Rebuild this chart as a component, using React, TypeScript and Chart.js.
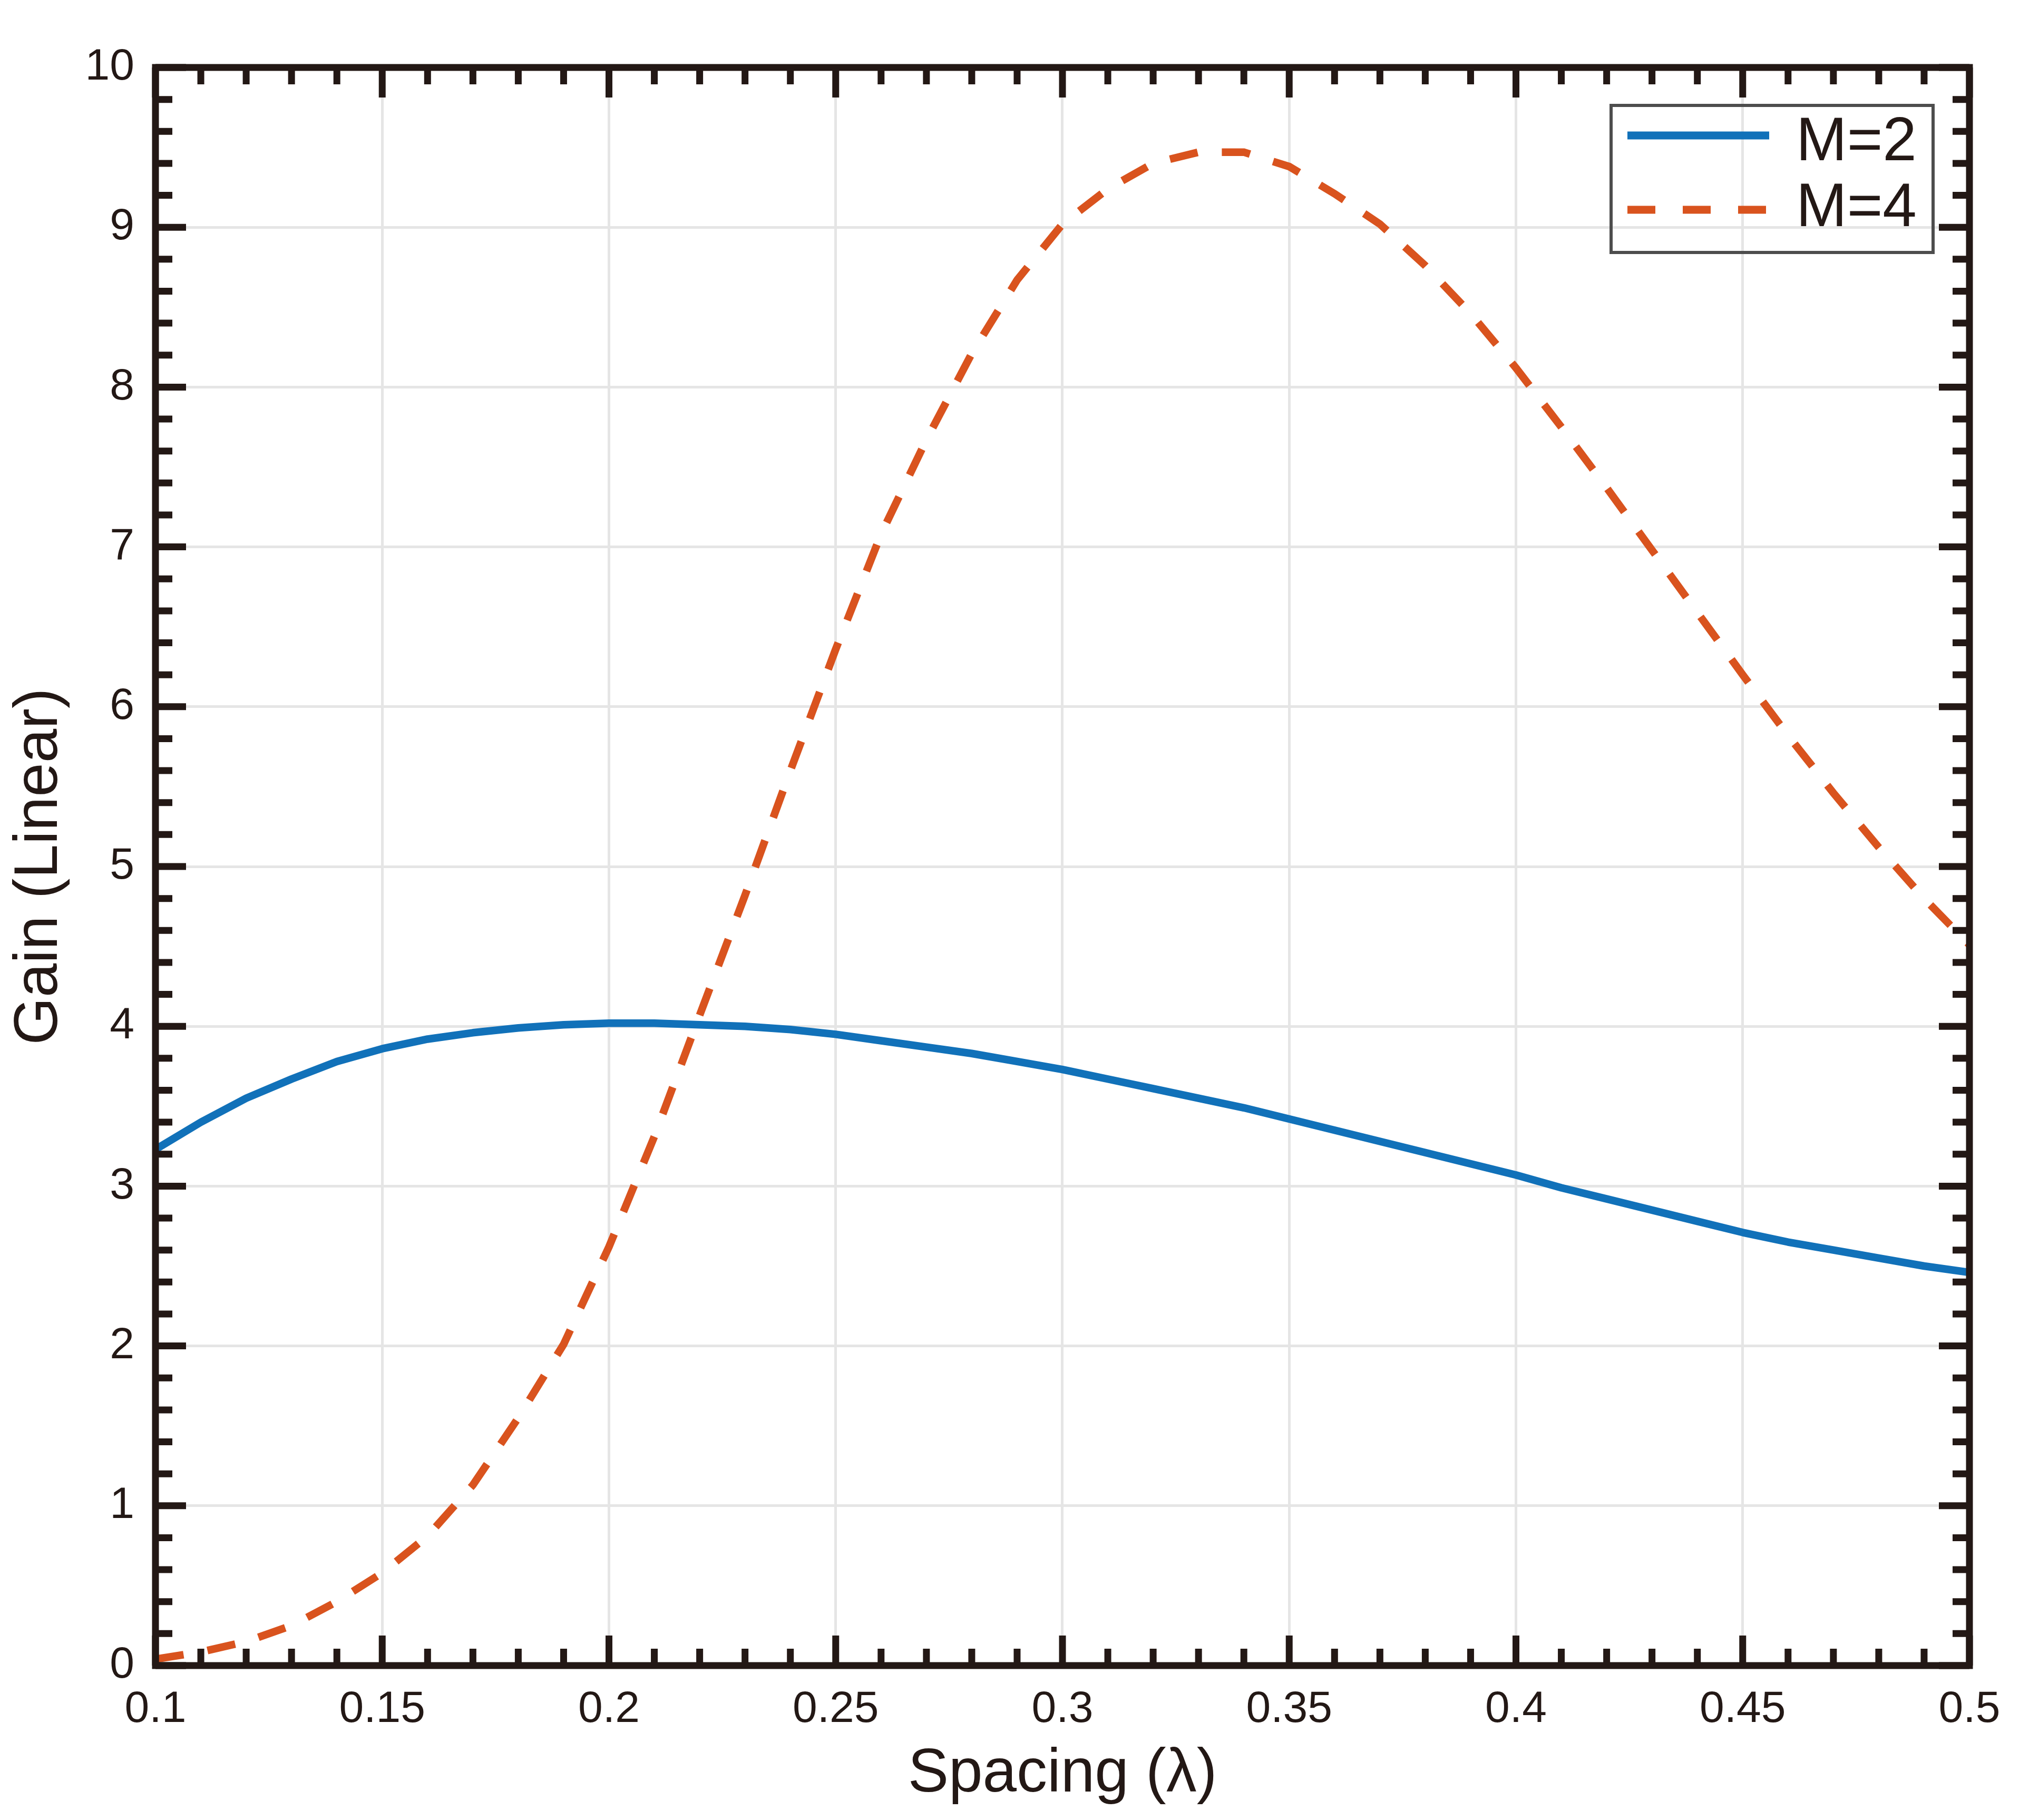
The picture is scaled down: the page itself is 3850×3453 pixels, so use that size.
import { useEffect, useRef } from "react";
import { Chart, registerables } from "chart.js";

Chart.register(...registerables);

// spacing in wavelengths, sampled every 0.01
const spacing = [
  0.1, 0.11, 0.12, 0.13, 0.14, 0.15, 0.16, 0.17, 0.18, 0.19, 0.2, 0.21, 0.22, 0.23, 0.24, 0.25, 0.26,
  0.27, 0.28, 0.29, 0.3, 0.31, 0.32, 0.33, 0.34, 0.35, 0.36, 0.37, 0.38, 0.39, 0.4, 0.41, 0.42, 0.43,
  0.44, 0.45, 0.46, 0.47, 0.48, 0.49, 0.5,
];

const gainM2 = [
  3.23, 3.4, 3.55, 3.67, 3.78, 3.86, 3.92, 3.96, 3.99, 4.01, 4.02, 4.02, 4.01, 4.0, 3.98, 3.95, 3.91,
  3.87, 3.83, 3.78, 3.73, 3.67, 3.61, 3.55, 3.49, 3.42, 3.35, 3.28, 3.21, 3.14, 3.07, 2.99, 2.92, 2.85,
  2.78, 2.71, 2.65, 2.6, 2.55, 2.5, 2.46,
];

const gainM4 = [
  0.04, 0.085, 0.15, 0.25, 0.4, 0.58, 0.81, 1.13, 1.55, 2.01, 2.62, 3.31, 4.07, 4.82, 5.6, 6.36, 7.08,
  7.67, 8.21, 8.67, 9.02, 9.24, 9.4, 9.47, 9.47, 9.38, 9.21, 9.02, 8.76, 8.46, 8.12, 7.75, 7.37, 6.98,
  6.59, 6.2, 5.82, 5.46, 5.12, 4.8, 4.51,
];

const seriesLabels = ["M=2", "M=4"];

const xTickValues = [0.1, 0.15, 0.2, 0.25, 0.3, 0.35, 0.4, 0.45, 0.5];
const xTickLabels = ["0.1", "0.15", "0.2", "0.25", "0.3", "0.35", "0.4", "0.45", "0.5"];
const yTickValues = [0, 1, 2, 3, 4, 5, 6, 7, 8, 9, 10];
const yTickLabels = ["0", "1", "2", "3", "4", "5", "6", "7", "8", "9", "10"];

const FONT = "'Liberation Sans', Arial, Helvetica, sans-serif";
const INK = "#231815";
const BLUE = "#1171b9";
const ORANGE = "#d9531e";

// boxed axes with inward major/minor ticks on all four sides, plus the legend
const frameAndLegend = {
  id: "frameAndLegend",
  afterDraw(chart: Chart) {
    const { ctx, chartArea: ca, scales } = chart;
    const xs = scales.x;
    const ys = scales.y;
    ctx.save();
    ctx.strokeStyle = INK;
    ctx.lineWidth = 13;
    ctx.lineCap = "butt";
    ctx.setLineDash([]);
    ctx.beginPath();
    for (let i = 10; i <= 50; i++) {
      const px = xs.getPixelForValue(i / 100);
      const len = i % 5 === 0 ? 57 : 32;
      ctx.moveTo(px, ca.bottom);
      ctx.lineTo(px, ca.bottom - len);
      ctx.moveTo(px, ca.top);
      ctx.lineTo(px, ca.top + len);
    }
    for (let j = 0; j <= 50; j++) {
      const py = ys.getPixelForValue(j / 5);
      const len = j % 5 === 0 ? 58 : 32;
      ctx.moveTo(ca.left, py);
      ctx.lineTo(ca.left + len, py);
      ctx.moveTo(ca.right, py);
      ctx.lineTo(ca.right - len, py);
    }
    ctx.stroke();
    ctx.lineJoin = "miter";
    ctx.strokeRect(ca.left, ca.top, ca.right - ca.left, ca.bottom - ca.top);

    // legend box in the top-right corner
    const lx = ca.right - 680;
    const ly = ca.top + 72;
    ctx.lineWidth = 6;
    ctx.strokeStyle = "#4d4d4d";
    ctx.strokeRect(lx, ly, 611, 279);
    chart.data.datasets.forEach((ds: any, i: number) => {
      const rowY = ly + 57 + i * 141;
      ctx.beginPath();
      ctx.setLineDash(i === 1 ? [53, 52] : []);
      ctx.lineWidth = 15;
      ctx.strokeStyle = ds.borderColor;
      ctx.moveTo(lx + 31, rowY);
      ctx.lineTo(lx + 300, rowY);
      ctx.stroke();
      ctx.setLineDash([]);
      ctx.fillStyle = INK;
      ctx.font = `116px ${FONT}`;
      ctx.textAlign = "left";
      ctx.textBaseline = "alphabetic";
      ctx.fillText(ds.label, lx + 351, ly + 104 + i * 125);
    });
    ctx.restore();
  },
};

function GainChart() {
  const canvasRef = useRef<HTMLCanvasElement | null>(null);

  useEffect(() => {
    const canvas = canvasRef.current;
    if (!canvas) return;

    const chart = new Chart(canvas, {
      type: "line",
      data: {
        datasets: [
          {
            label: seriesLabels[0],
            data: spacing.map((x, i) => ({ x, y: gainM2[i] })),
            borderColor: BLUE,
            borderWidth: 14.5,
            pointRadius: 0,
            tension: 0,
            borderJoinStyle: "round",
          },
          {
            label: seriesLabels[1],
            data: spacing.map((x, i) => ({ x, y: gainM4[i] })),
            borderColor: ORANGE,
            borderWidth: 14.5,
            borderDash: [54, 46],
            borderCapStyle: "butt",
            pointRadius: 0,
            tension: 0,
          },
        ],
      },
      options: {
        responsive: false,
        maintainAspectRatio: false,
        devicePixelRatio: 1,
        animation: false,
        layout: { padding: { left: 0, top: 128, right: 113, bottom: 0 } },
        plugins: {
          legend: { display: false },
          tooltip: { enabled: false },
        },
        scales: {
          x: {
            type: "linear",
            min: 0.1,
            max: 0.5,
            afterBuildTicks: (scale: any) => {
              scale.ticks = xTickValues.map((value) => ({ value }));
            },
            afterFit: (scale: any) => {
              scale.height = 293;
            },
            grid: { color: "#e5e5e5", lineWidth: 5, drawTicks: false },
            border: { display: false },
            ticks: {
              autoSkip: false,
              maxRotation: 0,
              padding: 33,
              color: INK,
              font: { family: FONT, size: 84 },
              callback: (_v: any, i: number) => xTickLabels[i],
            },
            title: {
              display: true,
              text: "Spacing (λ)",
              color: INK,
              font: { family: FONT, size: 116, lineHeight: 1 },
              padding: { top: 0, bottom: 28 },
            },
          },
          y: {
            type: "linear",
            min: 0,
            max: 10,
            afterBuildTicks: (scale: any) => {
              scale.ticks = yTickValues.map((value) => ({ value }));
            },
            afterFit: (scale: any) => {
              scale.width = 295;
            },
            grid: { color: "#e5e5e5", lineWidth: 5, drawTicks: false },
            border: { display: false },
            ticks: {
              autoSkip: false,
              padding: 40,
              color: INK,
              font: { family: FONT, size: 84 },
              callback: (_v: any, i: number) => yTickLabels[i],
            },
            title: {
              display: true,
              text: "Gain (Linear)",
              color: INK,
              font: { family: FONT, size: 116, lineHeight: 1 },
              padding: { top: 18, bottom: 0 },
            },
          },
        },
      },
      plugins: [frameAndLegend],
    });

    return () => chart.destroy();
  }, []);

  return <canvas ref={canvasRef} width={3850} height={3453} style={{ display: "block" }} />;
}

export default function App() {
  return (
    <div style={{ position: "absolute", left: 0, top: 0, width: 3850, height: 3453, background: "#fff" }}>
      <GainChart />
    </div>
  );
}
